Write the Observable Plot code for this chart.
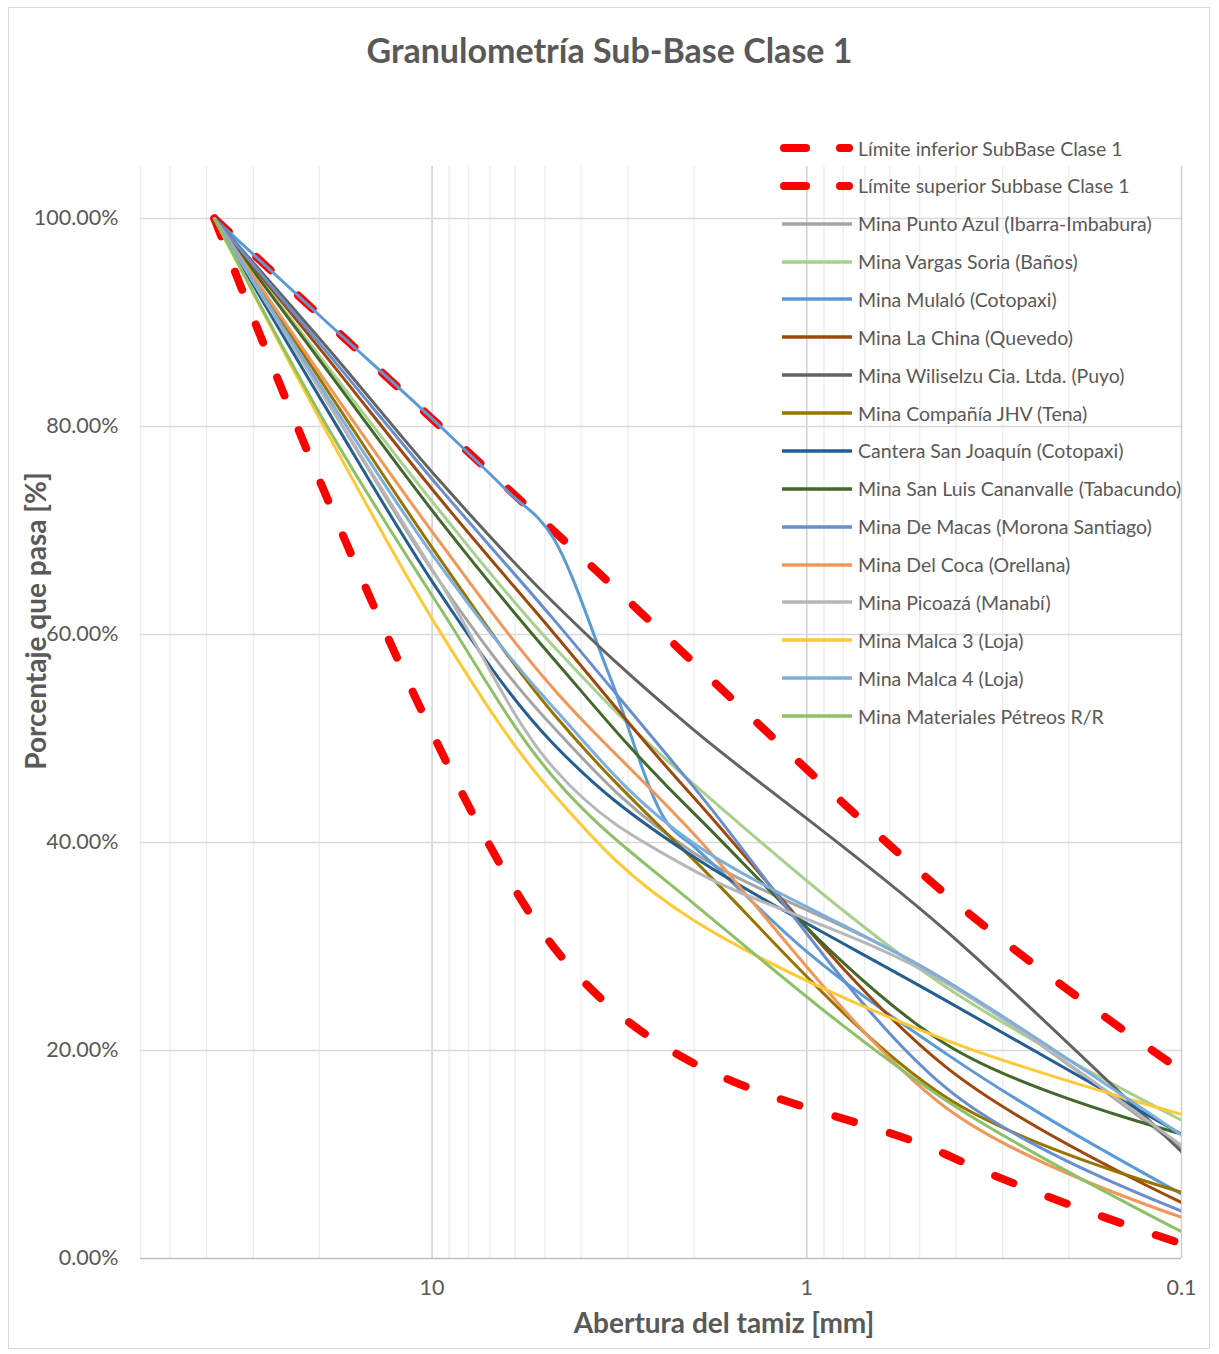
<!DOCTYPE html>
<html>
<head>
<meta charset="utf-8">
<script src="https://cdn.jsdelivr.net/npm/d3@7"></script>
<script src="https://cdn.jsdelivr.net/npm/@observablehq/plot@0.6"></script>
<style>
  html, body { margin: 0; padding: 0; background: #fff; }
  #chart { position: relative; width: 1219px; height: 1354px; font-family: Lato, "Open Sans", sans-serif; color: #595959; overflow: hidden; }
  #border { position: absolute; left: 8px; top: 7px; width: 1202px; height: 1342px; border: 1px solid #D9D9D9; box-sizing: border-box; }
  #plot { position: absolute; left: 0; top: 0; }
  .title { position: absolute; left: 0; width: 1219px; text-align: center; top: 29px; font-size: 34px; font-weight: 700; }
  .xlabel { position: absolute; left: 524px; width: 400px; text-align: center; top: 1305px; font-size: 28px; font-weight: 700; white-space: nowrap; }
  .ylabel { position: absolute; left: 35px; top: 621px; transform: translate(-50%, -50%) rotate(-90deg); font-size: 28px; font-weight: 700; white-space: nowrap; }
  .leg { position: absolute; left: 778px; height: 30px; display: flex; align-items: center; white-space: nowrap; font-size: 19.5px; }
  .leg svg { width: 80px; height: 30px; display: block; }
</style>
</head>
<body>
<div id="chart">
  <div id="border"></div>
  <div id="plot"></div>
  <div class="title">Granulometría Sub-Base Clase 1</div>
  <div class="xlabel">Abertura del tamiz [mm]</div>
  <div class="ylabel">Porcentaje que pasa [%]</div>
  <div id="legend"></div>
</div>
<script>
// ---- data (sieve opening in mm, percent passing) ----
const limitSieves = [38.1, 4.75, 0.425, 0.075];
const limiteInferior = [100, 30, 10, 0];
const limiteSuperior = [100, 70, 35, 15];

const sieves = [38.1, 19.05, 9.5, 4.75, 2.0, 0.425, 0.075];
const mulaloSieves = [38.1, 19.05, 9.5, 6.3, 4.75, 3.35, 2.36, 2.0, 1.0, 0.425, 0.1];

const puntoAzul = [100, 82.4, 65.0, 51.1, 39.0, 26.7, 7.2];
const vargasSoria = [100, 85.8, 71.8, 58.9, 45.6, 26.1, 11.0];
const mulalo = [100, 90.0, 80.0, 73.8, 69.3, 55.9, 41.9, 39.6, 29.5, 19.7, 6.2];
const laChina = [100, 86.6, 73.0, 60.2, 44.3, 18.4, 3.3];
const wiliselzu = [100, 87.6, 74.7, 63.1, 50.8, 31.5, 5.9];
const companiaJHV = [100, 83.5, 67.2, 52.4, 38.3, 15.5, 5.1];
const sanJoaquin = [100, 81.6, 63.9, 49.5, 38.6, 24.8, 9.4];
const sanLuis = [100, 85.4, 70.9, 57.7, 42.8, 20.6, 10.8];
const deMacas = [100, 87.1, 74.0, 61.5, 45.3, 16.4, 2.9];
const delCoca = [100, 84.1, 68.8, 54.8, 40.8, 14.5, 2.5];
const picoaza = [100, 82.4, 65.0, 47.2, 37.3, 26.5, 7.5];
const malca3 = [100, 79.4, 60.2, 44.7, 32.5, 21.0, 12.6];
const malca4 = [100, 82.9, 66.6, 53.0, 39.9, 26.7, 8.8];
const materialesPetreos = [100, 80.0, 62.5, 46.3, 34.1, 15.2, 0.3];

const limitNames = ["Límite inferior SubBase Clase 1", "Límite superior Subbase Clase 1"];
const mineNames = [
  "Mina Punto Azul (Ibarra-Imbabura)",
  "Mina Vargas Soria (Baños)",
  "Mina Mulaló (Cotopaxi)",
  "Mina La China (Quevedo)",
  "Mina Wiliselzu Cia. Ltda. (Puyo)",
  "Mina Compañía JHV (Tena)",
  "Cantera San Joaquín (Cotopaxi)",
  "Mina San Luis Cananvalle (Tabacundo)",
  "Mina De Macas (Morona Santiago)",
  "Mina Del Coca (Orellana)",
  "Mina Picoazá (Manabí)",
  "Mina Malca 3 (Loja)",
  "Mina Malca 4 (Loja)",
  "Mina Materiales Pétreos R/R"
];
const mineValues = [puntoAzul, vargasSoria, mulalo, laChina, wiliselzu, companiaJHV, sanJoaquin,
  sanLuis, deMacas, delCoca, picoaza, malca3, malca4, materialesPetreos];
const mineSieves = mineValues.map(v => v === mulalo ? mulaloSieves : sieves);

// axis ticks
const majorX = [10, 1, 0.1];
const minorX = [60, 50, 40, 30, 20, 9, 8, 7, 6, 5, 4, 3, 2, 0.9, 0.8, 0.7, 0.6, 0.5, 0.4, 0.3, 0.2];
const yTicks = [0, 20, 40, 60, 80, 100];

// ---- styles ----
const limitColor = "#FF0000";
const mineColors = ["#A5A5A5", "#A9D18E", "#5B9BD5", "#9E480E", "#636363", "#997300", "#255E91",
  "#43682B", "#698ED0", "#F1975A", "#B7B7B7", "#FFC935", "#7CAFDD", "#8CC168"];

// ---- tables built from arrays ----
const limitRows = [];
[limiteInferior, limiteSuperior].forEach((vals, i) =>
  vals.forEach((v, j) => limitRows.push({name: limitNames[i], sieve: limitSieves[j], pass: v})));
const mineTables = mineValues.map((vals, i) =>
  vals.map((v, j) => ({name: mineNames[i], sieve: mineSieves[i][j], pass: v})));

const mineMarks = mineTables.map((rows, i) =>
  Plot.line(rows, {x: "sieve", y: "pass", stroke: mineColors[i], strokeWidth: 3, clip: true,
    curve: mineValues[i] === mulalo ? "monotone-x" : "cardinal", tension: 0}));

const chart = Plot.plot({
  width: 1219,
  height: 1354,
  marginLeft: 140,
  marginRight: 38,
  marginTop: 166,
  marginBottom: 96,
  style: {fontFamily: "Lato, 'Open Sans', sans-serif", fontSize: "21.5px", color: "#595959", background: "transparent"},
  x: {type: "log", domain: [60, 0.1]},
  y: {domain: [0, 105]},
  marks: [
    Plot.ruleX(minorX, {stroke: "#EDEDED", strokeWidth: 1.3}),
    Plot.ruleX(majorX, {stroke: "#D0D0D0", strokeWidth: 1.5}),
    Plot.ruleY(yTicks.filter(d => d > 0), {stroke: "#D9D9D9", strokeWidth: 1.5}),
    Plot.ruleY([0], {stroke: "#BFBFBF", strokeWidth: 1.5}),
    Plot.axisX(majorX, {tickSize: 0, tickPadding: 21, label: null, fill: "#595959",
      tickFormat: d => String(d)}),
    Plot.axisY(yTicks, {tickSize: 0, tickPadding: 22, label: null, fill: "#595959",
      tickFormat: d => d.toFixed(2) + "%"}),
    Plot.line(limitRows, {x: "sieve", y: "pass", z: "name", stroke: limitColor, strokeWidth: 8,
      strokeDasharray: "19.5 37.5", strokeLinecap: "round", curve: "cardinal", tension: 0, clip: true}),
    ...mineMarks
  ]
});
document.getElementById("plot").appendChild(chart);

// ---- legend ----
const legend = document.getElementById("legend");
const legendNames = limitNames.concat(mineNames);
legendNames.forEach((name, i) => {
  const row = document.createElement("div");
  row.className = "leg";
  row.style.top = (148 + i * 37.87 - 15) + "px";
  const isLimit = i < 2;
  const color = isLimit ? limitColor : mineColors[i - 2];
  const sample = isLimit
    ? `<svg viewBox="0 0 80 30"><line x1="6" y1="15" x2="71" y2="15" stroke="${color}" stroke-width="8" stroke-linecap="round" stroke-dasharray="22 34"/></svg>`
    : `<svg viewBox="0 0 80 30"><line x1="4" y1="15" x2="74" y2="15" stroke="${color}" stroke-width="3.5"/></svg>`;
  row.innerHTML = sample + `<span>${name}</span>`;
  legend.appendChild(row);
});
</script>
</body>
</html>
